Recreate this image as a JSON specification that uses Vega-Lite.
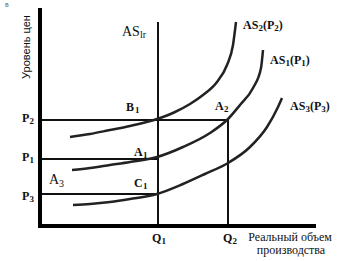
{
  "$schema": "https://vega.github.io/schema/vega-lite/v6.json",
  "width": 341,
  "height": 261,
  "autosize": "none",
  "padding": 0,
  "background": "white",
  "config": {"view": {"stroke": null}},
  "datasets": {
    "axes": [
      {"x": 0, "y": 0, "x2": 0, "y2": 216},
      {"x": 0, "y": 0, "x2": 274, "y2": 0}
    ],
    "guides": [
      {"x": 118, "y": 0, "x2": 118, "y2": 204},
      {"x": 188, "y": 0, "x2": 188, "y2": 106},
      {"x": 0, "y": 106, "x2": 188, "y2": 106},
      {"x": 0, "y": 67, "x2": 118, "y2": 67},
      {"x": 0, "y": 32, "x2": 118, "y2": 32}
    ],
    "curves": [
      {"c": "AS2", "x": 30, "y": 89}, {"c": "AS2", "x": 50, "y": 92}, {"c": "AS2", "x": 70, "y": 96},
      {"c": "AS2", "x": 90, "y": 100}, {"c": "AS2", "x": 117, "y": 107}, {"c": "AS2", "x": 135, "y": 114},
      {"c": "AS2", "x": 150, "y": 122}, {"c": "AS2", "x": 163, "y": 131}, {"c": "AS2", "x": 177, "y": 144},
      {"c": "AS2", "x": 187, "y": 161}, {"c": "AS2", "x": 193, "y": 181}, {"c": "AS2", "x": 196, "y": 204},
      {"c": "AS1", "x": 32, "y": 56}, {"c": "AS1", "x": 50, "y": 58}, {"c": "AS1", "x": 70, "y": 61},
      {"c": "AS1", "x": 90, "y": 64}, {"c": "AS1", "x": 117, "y": 69}, {"c": "AS1", "x": 143, "y": 79},
      {"c": "AS1", "x": 170, "y": 93}, {"c": "AS1", "x": 188, "y": 107}, {"c": "AS1", "x": 200, "y": 121},
      {"c": "AS1", "x": 213, "y": 138}, {"c": "AS1", "x": 221, "y": 158}, {"c": "AS1", "x": 223, "y": 176},
      {"c": "AS3", "x": 33, "y": 21}, {"c": "AS3", "x": 50, "y": 22}, {"c": "AS3", "x": 70, "y": 24},
      {"c": "AS3", "x": 90, "y": 27}, {"c": "AS3", "x": 117, "y": 32}, {"c": "AS3", "x": 143, "y": 42},
      {"c": "AS3", "x": 165, "y": 52}, {"c": "AS3", "x": 188, "y": 63}, {"c": "AS3", "x": 210, "y": 79},
      {"c": "AS3", "x": 227, "y": 99}, {"c": "AS3", "x": 238, "y": 119}, {"c": "AS3", "x": 242, "y": 128}
    ],
    "boldMain": [
      {"t": "B", "x": 86, "y": 119},
      {"t": "A", "x": 175, "y": 120},
      {"t": "A", "x": 94, "y": 74},
      {"t": "C", "x": 94, "y": 43},
      {"t": "P", "x": -18, "y": 108},
      {"t": "P", "x": -18, "y": 69},
      {"t": "P", "x": -18, "y": 30},
      {"t": "Q", "x": 112, "y": -12},
      {"t": "Q", "x": 183, "y": -12},
      {"t": "AS", "x": 203, "y": 201},
      {"t": "(P", "x": 223, "y": 201},
      {"t": ")", "x": 238.8, "y": 201},
      {"t": "AS", "x": 230, "y": 166},
      {"t": "(P", "x": 250, "y": 166},
      {"t": ")", "x": 265.8, "y": 166},
      {"t": "AS", "x": 250, "y": 120},
      {"t": "(P", "x": 270, "y": 120},
      {"t": ")", "x": 285.8, "y": 120}
    ],
    "boldSub": [
      {"t": "1", "x": 95, "y": 116},
      {"t": "2", "x": 184, "y": 117},
      {"t": "1", "x": 103, "y": 71},
      {"t": "1", "x": 103, "y": 40},
      {"t": "2", "x": -10.5, "y": 105},
      {"t": "1", "x": -10.5, "y": 66},
      {"t": "3", "x": -10.5, "y": 27},
      {"t": "1", "x": 121.5, "y": -15},
      {"t": "2", "x": 192.5, "y": -15},
      {"t": "2", "x": 218.4, "y": 198},
      {"t": "2", "x": 234.3, "y": 198},
      {"t": "1", "x": 245.4, "y": 163},
      {"t": "1", "x": 261.3, "y": 163},
      {"t": "3", "x": 265.4, "y": 117},
      {"t": "3", "x": 281.3, "y": 117}
    ],
    "bigText": [
      {"t": "AS", "x": 82, "y": 194},
      {"t": "A", "x": 9, "y": 46}
    ],
    "subText": [
      {"t": "lr", "x": 100, "y": 191},
      {"t": "3", "x": 19, "y": 42}
    ],
    "xTitle": [
      {"t": "Реальный объем", "x": 250, "y": -11},
      {"t": "производства", "x": 251, "y": -24}
    ],
    "yTitle": [
      {"t": "Уровень цен", "x": -13, "y": 179}
    ],
    "mark": [
      {"t": "в", "x": -35, "y": 221}
    ]
  },
  "encoding": {
    "x": {"field": "x", "type": "quantitative", "scale": {"domain": [-40, 301], "nice": false, "zero": false}, "axis": null},
    "y": {"field": "y", "type": "quantitative", "scale": {"domain": [-35, 226], "nice": false, "zero": false}, "axis": null}
  },
  "layer": [
    {
      "data": {"name": "guides"},
      "mark": {"type": "rule", "color": "#111", "strokeWidth": 2},
      "encoding": {"x2": {"field": "x2"}, "y2": {"field": "y2"}}
    },
    {
      "data": {"name": "curves"},
      "mark": {"type": "line", "color": "#222", "strokeWidth": 2.5, "interpolate": "monotone"},
      "encoding": {"detail": {"field": "c"}, "order": {"field": "x", "type": "quantitative"}}
    },
    {
      "data": {"name": "axes"},
      "mark": {"type": "rule", "color": "#000", "strokeWidth": 4, "strokeCap": "square"},
      "encoding": {"x2": {"field": "x2"}, "y2": {"field": "y2"}}
    },
    {
      "data": {"name": "boldMain"},
      "mark": {"type": "text", "font": "Liberation Serif", "fontWeight": "bold", "fontSize": 12, "align": "left", "baseline": "middle", "color": "#111"},
      "encoding": {"text": {"field": "t"}}
    },
    {
      "data": {"name": "boldSub"},
      "mark": {"type": "text", "font": "Liberation Serif", "fontWeight": "bold", "fontSize": 9, "align": "left", "baseline": "middle", "color": "#111"},
      "encoding": {"text": {"field": "t"}}
    },
    {
      "data": {"name": "bigText"},
      "mark": {"type": "text", "font": "Liberation Serif", "fontSize": 14, "align": "left", "baseline": "middle", "color": "#111"},
      "encoding": {"text": {"field": "t"}}
    },
    {
      "data": {"name": "subText"},
      "mark": {"type": "text", "font": "Liberation Serif", "fontSize": 10, "align": "left", "baseline": "middle", "color": "#111"},
      "encoding": {"text": {"field": "t"}}
    },
    {
      "data": {"name": "xTitle"},
      "mark": {"type": "text", "font": "Liberation Serif", "fontSize": 12, "align": "center", "baseline": "middle", "color": "#111"},
      "encoding": {"text": {"field": "t"}}
    },
    {
      "data": {"name": "yTitle"},
      "mark": {"type": "text", "font": "Liberation Sans", "fontSize": 11, "angle": 270, "align": "center", "baseline": "middle", "color": "#111"},
      "encoding": {"text": {"field": "t"}}
    },
    {
      "data": {"name": "mark"},
      "mark": {"type": "text", "font": "Liberation Sans", "fontSize": 7, "align": "left", "baseline": "middle", "color": "#666"},
      "encoding": {"text": {"field": "t"}}
    }
  ]
}
